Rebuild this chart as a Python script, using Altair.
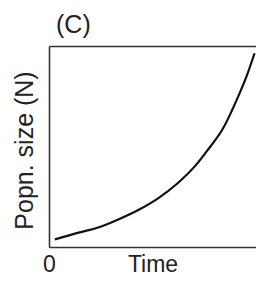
import altair as alt
import pandas as pd

time = [0.28, 1.36, 2.38, 3.32, 4.25, 5.19, 6.12, 7.06, 7.52, 8.32, 9.00, 9.39, 9.78]
popn = [0.38, 0.70, 0.98, 1.38, 1.84, 2.42, 3.17, 4.16, 4.78, 5.97, 7.48, 8.46, 9.64]
x_tick_values = [0]

df = pd.DataFrame({"Time": time, "N": popn})

FONT = "Liberation Sans, Arial, sans-serif"
TXT = "#222222"
LINE = "#333333"

xscale = alt.Scale(domain=[0, 9.85], nice=False, zero=False)
yscale = alt.Scale(domain=[0, 10], nice=False, zero=False)

base = alt.Chart(df)

main = base.mark_line(color="#111111", strokeWidth=2.2, interpolate="monotone").encode(
    x=alt.X("Time:Q", scale=xscale,
            axis=alt.Axis(orient="bottom", values=x_tick_values, ticks=False, grid=False,
                          domain=True, domainColor=LINE, domainWidth=1.6,
                          labelFontSize=23, labelFont=FONT, labelColor=TXT,
                          labelPadding=6, labelFlush=False,
                          title="Time", titleFontSize=23, titleFont=FONT,
                          titleFontWeight="normal", titleColor=TXT,
                          titleY=6, titleBaseline="top")),
    y=alt.Y("N:Q", scale=yscale,
            axis=alt.Axis(orient="left", ticks=False, labels=False, grid=False,
                          domain=True, domainColor=LINE, domainWidth=1.6,
                          title="Popn. size (N)", titleFontSize=25, titleFont=FONT,
                          titleFontWeight="normal", titleColor=TXT,
                          titleX=-12, titleY=104, titleBaseline="bottom")),
)

top = base.mark_line(opacity=0).encode(
    x=alt.X("Time:Q", scale=xscale,
            axis=alt.Axis(orient="top", ticks=False, labels=False, grid=False,
                          domain=True, domainColor=LINE, domainWidth=1.6, title=None)),
    y=alt.Y("N:Q", scale=yscale),
)

chart = alt.layer(main, top).properties(
    width=207,
    height=201,
    padding={"left": 41, "top": 38, "right": 0, "bottom": 30},
    autosize=alt.AutoSizeParams(type="none"),
    title=alt.Title("(C)", anchor="start", frame="group", dx=7, dy=20, fontSize=25,
                    font=FONT, fontWeight="normal", color=TXT, offset=8,
                    baseline="alphabetic"),
).configure_view(stroke=None).configure(background="white")

chart.save("out.html", embed_options={"renderer": "svg", "actions": False})
